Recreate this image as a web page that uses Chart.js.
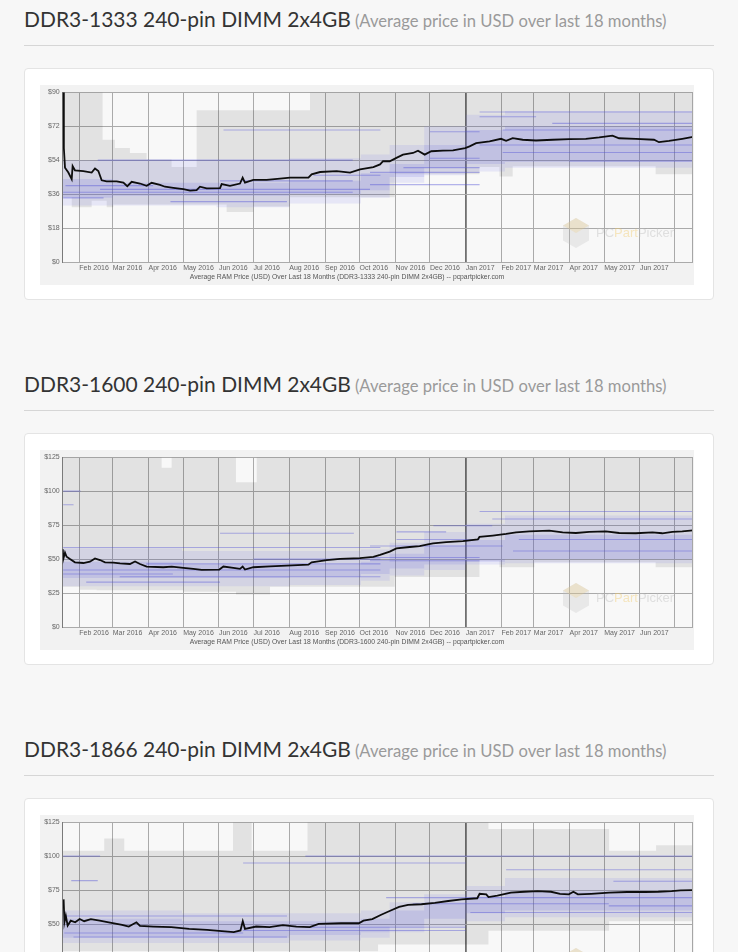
<!DOCTYPE html>
<html><head><meta charset="utf-8">
<script src="https://cdn.jsdelivr.net/npm/chart.js@4.4.0/dist/chart.umd.min.js"></script>
<style>
html,body{margin:0;padding:0;background:#f7f7f7;width:738px;height:952px;overflow:hidden;font-family:Lato,"Open Sans",sans-serif;}
.sec{position:absolute;left:0;width:738px;height:365px;}
.title{position:absolute;left:24px;top:4px;white-space:nowrap;line-height:30px;}
.title .main{color:#333;font-size:22px;}
.title .sub{color:#9a9a9a;font-size:15px;margin-left:4px;}
.rule{position:absolute;left:24px;top:45px;width:690px;height:1px;background:#d6d6d6;}
.card{position:absolute;left:24px;top:68px;width:688px;height:230px;background:#fff;border:1px solid #e4e4e4;border-radius:4px;}
.img{position:absolute;left:40px;top:85px;width:654px;height:200px;background:#f2f2f2;}
</style></head>
<body>
<div class="sec" style="top:0">
  <div class="title"><span class="main">DDR3-1333 240-pin DIMM 2x4GB</span><span class="sub">(Average price in USD over last 18 months)</span></div>
  <div class="rule"></div><div class="card"></div>
  <div class="img"><canvas id="c1"></canvas></div>
</div>
<div class="sec" style="top:365px">
  <div class="title"><span class="main">DDR3-1600 240-pin DIMM 2x4GB</span><span class="sub">(Average price in USD over last 18 months)</span></div>
  <div class="rule"></div><div class="card"></div>
  <div class="img"><canvas id="c2"></canvas></div>
</div>
<div class="sec" style="top:730px">
  <div class="title"><span class="main">DDR3-1866 240-pin DIMM 2x4GB</span><span class="sub">(Average price in USD over last 18 months)</span></div>
  <div class="rule"></div><div class="card"></div>
  <div class="img"><canvas id="c3"></canvas></div>
</div>
<script>
// ---------- shared axis data (x = day number counted from 1 Jan 2016) ----------
const xStartDay = 16.6;
const xEndDay = 563;
const monthDays = [31,60,91,121,152,182,213,244,274,305,335,366,397,425,456,486,517,547];
const monthLabels = ['Feb 2016','Mar 2016','Apr 2016','May 2016','Jun 2016','Jul 2016','Aug 2016','Sep 2016','Oct 2016','Nov 2016','Dec 2016','Jan 2017','Feb 2017','Mar 2017','Apr 2017','May 2017','Jun 2017',''];
const yearStartDay = 366;

// ---------- chart 1 : DDR3-1333 ----------
const c1Name = 'DDR3-1333 240-pin DIMM 2x4GB';
const c1YMax = 90, c1YStep = 18;
const c1AvgDays = [17.0,17.6,18.6,21.5,24.4,25.2,27.2,34.5,41.7,44.6,47.5,50.4,54.7,63.4,69.2,72.6,76.4,83.6,89.4,93.7,100.9,105.3,112.5,121.2,127.0,132.7,135.6,141.4,153.0,154.4,161.6,170.3,172.6,174.6,181.9,193.4,205.0,213.7,229.6,232.4,239.7,254.1,265.7,274.4,285.9,291.7,294.3,300.1,305.9,311.6,320.3,324.6,330.4,336.1,346.2,354.9,365.5,369.3,375.0,386.6,396.6,401.0,406.7,415.4,426.9,441.3,455.7,470.1,481.7,493.2,498.9,513.4,529.2,533.5,542.2,553.7,563];
const c1AvgPrice = [90,60.4,50.0,47.4,43.9,50.8,48.6,48.2,47.4,49.6,48.2,43.3,42.7,42.7,42.1,40.2,42.5,41.6,40.4,42.0,40.9,39.9,39.3,38.6,37.8,38.1,39.9,39.0,39.2,41.3,40.4,41.6,44.7,42.1,43.5,43.5,44.2,44.7,44.7,46.5,47.7,48.2,47.4,49.1,50.3,51.7,53.4,53.4,55.2,56.9,57.8,59.0,56.9,58.7,59.0,59.2,60.4,61.3,63.0,63.9,65.3,64.2,65.6,64.8,64.4,64.8,65.1,65.3,66.0,67.0,65.6,65.3,64.8,63.5,64.2,65.3,66.3];
const c1RangeDays = [16.6,24.4,41.7,51.2,54.7,60.5,61.9,74.9,89.4,111,132.7,158.7,181.9,213.7,231,304.4,377.9,395.2,406.7,530.6,563];
const c1RangeHigh = [90,90,90,64.8,64.8,64.8,60.4,57.8,54.3,50.3,80.4,80.4,80.4,80.4,90,90,90,90,90,90,90];
const c1RangeLow  = [34.3,29,32.5,32.5,29,30.5,30.5,30.5,30.5,30.5,30.5,26.5,29.4,34.3,34.3,46.5,50.3,45.3,50.8,46.5,46.5];
const c1HazeDays = [16.6,60,150,213,275,300,330,366,400,563];
const c1HazeOuterLow  = [30,30,29,31,34,42,46,48,50,50];
const c1HazeOuterHigh = [54,54,54,55,57,62,72,78,80,80];
const c1HazeInnerLow  = [34,35,35,36,38,45,50,52,53,53];
const c1HazeInnerHigh = [44,42,42,43,47,52,62,70,72,72];
const c1SegStart = [17,49,19,153,156,47,17,110,234,283,283,335,378,378,441,398,378,398,456,312,335];
const c1SegEnd   = [268,283,95,268,292,268,52,211,292,378,378,378,427,563,563,563,563,563,563,378,378];
const c1SegPrice = [37,38.5,40.5,43,70,54,34,32,46,41,47.5,69,77,79.5,73.5,70,62,58,53.5,50,55];

// ---------- chart 2 : DDR3-1600 ----------
const c2Name = 'DDR3-1600 240-pin DIMM 2x4GB';
const c2YMax = 125, c2YStep = 25;
const c2AvgDays = [16.7,17.1,18.6,20.0,22.9,27.2,34.5,40.2,44.6,48.9,53.3,60.5,66.3,74.9,79.3,83.6,89.4,103.8,111.1,121.2,129.8,137.1,152.4,155.9,164.5,170.3,172.6,174.6,181.9,196.3,210.8,229.6,232.4,245.5,257.0,274.4,285.9,291.7,300.1,305.9,317.4,326.0,333.2,337.6,349.1,363.5,376.5,377.9,389.4,401.0,409.6,421.1,438.4,450.0,461.5,473.0,487.4,499.0,513.4,527.8,536.4,545.1,553.7,563];
const c2AvgPrice = [57.2,50.0,54.8,51.7,50.0,47.6,47.1,48.1,50.5,49.3,47.6,47.4,46.9,46.4,48.3,46.4,44.5,44.0,44.5,43.5,42.8,42.1,42.3,44.5,43.5,42.8,44.5,42.3,44.0,44.7,45.2,45.9,47.6,49.3,50.2,50.7,51.7,53.1,55.5,57.9,58.9,59.6,60.8,61.5,62.5,63.2,64.4,66.3,67.3,68.5,69.7,70.4,70.9,69.7,69.2,70.0,70.4,69.2,69.0,69.7,69.0,70.0,70.4,71.2];
const c2RangeDays = [16.6,31.6,46,102.4,111,121.2,166.8,184.8,196.3,304.4,377.9,395.2,425.5,530.6,563];
const c2RangeHigh = [125,125,125,117.3,125,125,106.5,125,125,125,125,125,125,125,125];
const c2RangeLow  = [29.6,27.5,27,27,27,26,24,24,29.6,36.8,48.8,44,47.6,44,44];
const c2HazeDays = [16.6,120,213,275,300,330,366,400,563];
const c2HazeOuterLow  = [30,30,31,34,38,42,46,47,47];
const c2HazeOuterHigh = [58,56,56,57,62,70,76,82,82];
const c2HazeInnerLow  = [36,36,37,39,43,46,48,50,50];
const c2HazeInnerHigh = [48,46,46,48,54,60,64,68,68];
const c2SegStart = [17,17,66,89,153,17,17,17,182,37,389,338,306,306,412,283,407,283,378,283];
const c2SegEnd   = [112,292,292,292,269,292,32,26,292,153,563,389,349,378,563,398,563,378,563,378];
const c2SegPrice = [39,42,37,46.5,69,58.5,100,90,50,33,79.5,74.5,70,64.4,64.4,59.6,56,51.2,85,48.8];

// ---------- chart 3 : DDR3-1866 ----------
const c3Name = 'DDR3-1866 240-pin DIMM 2x4GB';
const c3YMax = 125, c3YStep = 25;
const c3AvgDays = [17.4,18.1,19.3,20.9,23.6,27.4,31.3,35.2,41.0,48.7,56.5,68.1,73.9,80.5,83.6,95.2,110.7,126.2,141.7,157.2,164.9,170.7,172.7,174.6,184.3,195.9,207.5,219.2,230.8,238.5,257.9,273.4,277.3,285.0,292.7,300.5,308.2,316.0,327.6,339.2,350.8,362.5,376.0,378.0,383.8,385.7,393.4,405.1,416.7,428.3,439.9,447.7,455.4,459.3,463.2,474.8,490.3,505.8,521.2,532.9,544.5,552.3,563];
const c3AvgPrice = [68.2,51.3,56.2,48.9,52.5,51.3,53.7,52.1,53.7,52.5,51.3,49.4,48.2,51.3,48.7,48.2,47.7,46.5,45.8,44.6,44.1,45.3,52.1,46.5,48.2,47.7,49.2,48.2,47.7,50.1,50.6,50.6,52.5,53.7,56.9,59.8,62.7,64.1,64.6,65.6,67.0,68.2,69.0,72.3,71.9,69.9,70.9,73.1,73.8,74.3,73.8,72.3,71.9,73.8,71.9,72.3,73.1,73.6,73.6,73.8,74.3,74.8,75.0];
const c3RangeDays = [16.6,52.6,70,164.2,180.4,228.8,290,385.7,490.3,531,563];
const c3RangeHigh = [104,113,104,125,104,125,125,120,104,108,108];
const c3RangeLow  = [30,30,30,30,30,30,35,45,52,52,52];
const c3HazeDays = [16.6,120,213,275,300,330,366,400,563];
const c3HazeOuterLow  = [36,36,38,40,44,48,52,55,55];
const c3HazeOuterHigh = [60,58,58,60,66,72,78,84,84];
const c3HazeInnerLow  = [40,40,42,44,48,54,58,60,60];
const c3HazeInnerHigh = [54,52,52,54,60,66,70,74,74];
const c3SegStart = [17,227,24,18,18,173,26,320,370,401,494,297,227,173,490];
const c3SegEnd   = [49,563,47,211,173,366,211,490,563,563,563,563,366,366,563];
const c3SegPrice = [100,100,82,56,43.4,45.3,40.5,65,58.5,90,81.5,69.5,47.7,95,63.4];

// ---------- fit headings to the reference widths ----------
document.querySelectorAll('.title').forEach(t => {
  const m = t.querySelector('.main'), s = t.querySelector('.sub');
  m.style.fontSize = (22 * 327 / m.getBoundingClientRect().width) + 'px';
  s.style.fontSize = (15 * 312 / s.getBoundingClientRect().width) + 'px';
});

const pts = (xs, ys) => xs.map((x, i) => ({x, y: ys[i]}));
const TICK_FONT = {family: '"Liberation Sans", Arial, sans-serif', size: 7};

const plotBg = {
  id: 'plotBg',
  beforeDraw(chart) {
    const {ctx, chartArea: a} = chart;
    ctx.save(); ctx.fillStyle = '#f8f8f8';
    ctx.fillRect(a.left, a.top, a.right - a.left, a.bottom - a.top);
    ctx.restore();
  }
};
const watermark = {
  id: 'watermark',
  beforeDatasetsDraw(chart) {
    const {ctx, chartArea: a} = chart;
    const cx = a.right - 117, cy = a.bottom - 29;
    ctx.save();
    ctx.beginPath();
    for (let k = 0; k < 6; k++) {
      const ang = Math.PI / 6 + k * Math.PI / 3;
      ctx.lineTo(cx + 15 * Math.cos(ang), cy + 15 * Math.sin(ang));
    }
    ctx.closePath(); ctx.fillStyle = 'rgba(190,190,190,0.28)'; ctx.fill();
    ctx.beginPath();
    ctx.moveTo(cx, cy - 15); ctx.lineTo(cx + 13, cy - 7.5); ctx.lineTo(cx, cy); ctx.lineTo(cx - 13, cy - 7.5); ctx.closePath();
    ctx.fillStyle = 'rgba(240,205,120,0.25)'; ctx.fill();
    ctx.font = '13px "Liberation Sans", Arial, sans-serif';
    ctx.textBaseline = 'middle';
    let x = a.right - 97;
    [['PC', 'rgba(185,185,185,0.4)'], ['Part', 'rgba(240,200,100,0.4)'], ['Picker', 'rgba(185,185,185,0.4)']].forEach(([t, c]) => {
      ctx.fillStyle = c; ctx.fillText(t, x, cy); x += ctx.measureText(t).width;
    });
    ctx.restore();
  }
};
const frame = {
  id: 'frame',
  afterDraw(chart) {
    const {ctx, chartArea: a} = chart;
    ctx.save();
    ctx.strokeStyle = '#a6a6a6'; ctx.lineWidth = 1;
    ctx.beginPath(); ctx.moveTo(a.right - 0.5, a.top); ctx.lineTo(a.right - 0.5, a.bottom); ctx.stroke();
    ctx.fillStyle = '#555';
    ctx.font = '6.8px "Liberation Sans", Arial, sans-serif';
    ctx.textAlign = 'center'; ctx.textBaseline = 'middle';
    ctx.fillText(chart.options.plugins.frame.text, chart.width / 2 - 20, chart.height - 7.7);
    ctx.restore();
  }
};

function build(id, name, yMax, yStep, avgDays, avgPrice, rDays, rHigh, rLow, hDays, hOL, hOH, hIL, hIH, sS, sE, sP) {
  const datasets = [];
  datasets.push({data: pts(avgDays, avgPrice), borderColor: '#0d0d0d', borderWidth: 1.8, pointRadius: 0, fill: false, order: 0});
  sS.forEach((s, i) => datasets.push({data: [{x: s, y: sP[i]}, {x: sE[i], y: sP[i]}], borderColor: 'rgba(80,80,215,0.42)', borderWidth: 1.1, pointRadius: 0, fill: false, order: 1}));
  const base = datasets.length;
  datasets.push({data: pts(hDays, hIH), stepped: true, borderWidth: 0, pointRadius: 0, backgroundColor: 'rgba(105,105,225,0.17)', fill: base + 1, order: 2});
  datasets.push({data: pts(hDays, hIL), stepped: true, borderWidth: 0, pointRadius: 0, fill: false, order: 2});
  datasets.push({data: pts(hDays, hOH), stepped: true, borderWidth: 0, pointRadius: 0, backgroundColor: 'rgba(130,130,235,0.15)', fill: base + 3, order: 3});
  datasets.push({data: pts(hDays, hOL), stepped: true, borderWidth: 0, pointRadius: 0, fill: false, order: 3});
  datasets.push({data: pts(rDays, rHigh), stepped: true, borderWidth: 0, pointRadius: 0, backgroundColor: 'rgba(0,0,0,0.085)', fill: base + 5, order: 4});
  datasets.push({data: pts(rDays, rLow), stepped: true, borderWidth: 0, pointRadius: 0, fill: false, order: 4});

  new Chart(document.getElementById(id), {
    type: 'line',
    data: {datasets},
    plugins: [plotBg, watermark, frame],
    options: {
      responsive: true, maintainAspectRatio: false, animation: false,
      layout: {padding: {top: 4, right: 1, left: 0, bottom: 0}},
      plugins: {legend: {display: false}, tooltip: {enabled: false},
        frame: {text: 'Average RAM Price (USD) Over Last 18 Months (' + name + ') -- pcpartpicker.com'}},
      elements: {line: {tension: 0}},
      scales: {
        x: {type: 'linear', min: xStartDay, max: xEndDay,
          afterBuildTicks: s => { s.ticks = monthDays.map(v => ({value: v})); },
          afterFit: s => { s.height = 23; },
          ticks: {autoSkip: false, maxRotation: 0, minRotation: 0, align: 'start', padding: 2, font: TICK_FONT, color: '#666',
            callback: (v, i) => monthLabels[i]},
          grid: {drawTicks: false,
            color: c => (c.tick && c.tick.value === yearStartDay) ? '#707070' : '#aaaaaa',
            lineWidth: c => (c.tick && c.tick.value === yearStartDay) ? 1.8 : 1},
          border: {display: false}},
        y: {min: 0, max: yMax,
          afterFit: s => { s.width = 22.7; },
          ticks: {stepSize: yStep, padding: 3, font: TICK_FONT, color: '#666', callback: v => '$' + v},
          grid: {drawTicks: false, color: '#aaaaaa', lineWidth: 1},
          border: {color: '#7a7a7a', width: 1}}
      }
    }
  });
}

build('c1', c1Name, c1YMax, c1YStep, c1AvgDays, c1AvgPrice, c1RangeDays, c1RangeHigh, c1RangeLow, c1HazeDays, c1HazeOuterLow, c1HazeOuterHigh, c1HazeInnerLow, c1HazeInnerHigh, c1SegStart, c1SegEnd, c1SegPrice);
build('c2', c2Name, c2YMax, c2YStep, c2AvgDays, c2AvgPrice, c2RangeDays, c2RangeHigh, c2RangeLow, c2HazeDays, c2HazeOuterLow, c2HazeOuterHigh, c2HazeInnerLow, c2HazeInnerHigh, c2SegStart, c2SegEnd, c2SegPrice);
build('c3', c3Name, c3YMax, c3YStep, c3AvgDays, c3AvgPrice, c3RangeDays, c3RangeHigh, c3RangeLow, c3HazeDays, c3HazeOuterLow, c3HazeOuterHigh, c3HazeInnerLow, c3HazeInnerHigh, c3SegStart, c3SegEnd, c3SegPrice);
</script>
</body></html>
